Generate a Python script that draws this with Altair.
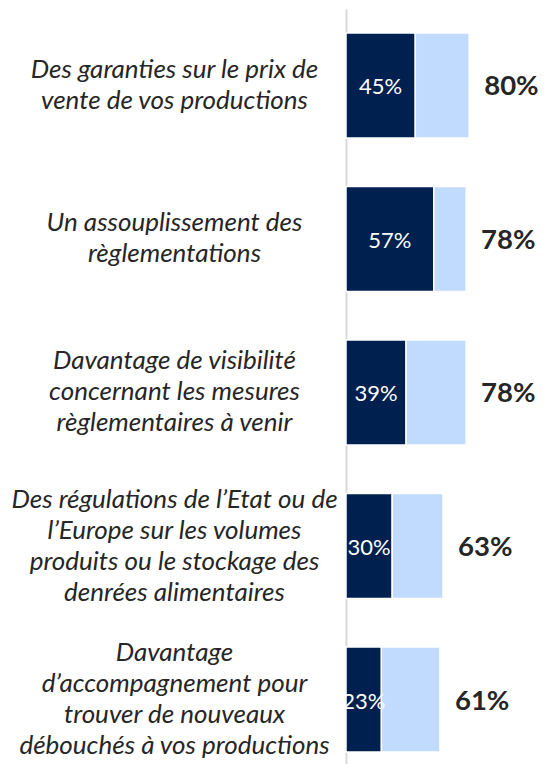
import altair as alt
import pandas as pd

categories = [
    "Des garanties sur le prix de|vente de vos productions",
    "Un assouplissement des|règlementations",
    "Davantage de visibilité|concernant les mesures|règlementaires à venir",
    "Des régulations de l’Etat ou de|l’Europe sur les volumes|produits ou le stockage des|denrées alimentaires",
    "Davantage|d’accompagnement pour|trouver de nouveaux|débouchés à vos productions",
]
part_values = [45, 57, 39, 30, 23]
total_values = [80, 78, 78, 63, 61]

DARK = "#002150"
LIGHT = "#c0dbfd"
LINE_H = 31

rows = []
for c, p, t in zip(categories, part_values, total_values):
    rows.append({"cat": c, "seg": "part", "value": p, "ord": 0})
    rows.append({"cat": c, "seg": "rest", "value": t - p, "ord": 1})
df = pd.DataFrame(rows)
lab = pd.DataFrame({"cat": categories, "part": part_values, "total": total_values})

y = alt.Y(
    "cat:N",
    sort=categories,
    title=None,
    scale=alt.Scale(paddingInner=0.316, paddingOuter=0.117, align=0.667),
    axis=alt.Axis(
        labelExpr="split(datum.label, '|')",
        labelAlign="center",
        labelBaseline="middle",
        labelOffset={"expr": f"-(length(split(datum.label, '|')) - 1) * {LINE_H / 2}"},
        labelPadding=172,
        ticks=False,
        domainColor="#d9d9d9",
        domainWidth=2,
        labelFont="Lato",
        labelFontStyle="italic",
        labelFontSize=26,
        labelColor="#262626",
        labelLineHeight=LINE_H,
        labelLimit=500,
        grid=False,
    ),
)

xscale = alt.Scale(domain=[0, 100])

bars = alt.Chart(df).mark_bar(stroke="white", strokeWidth=1.5).encode(
    x=alt.X("value:Q", stack="zero", scale=xscale, axis=None),
    y=y,
    color=alt.Color("seg:N", scale=alt.Scale(domain=["part", "rest"], range=[DARK, LIGHT]), legend=None),
    order=alt.Order("ord:Q"),
)

inner = alt.Chart(lab).transform_calculate(
    mid="datum.part / 2", lbl="datum.part + '%'"
).mark_text(color="white", font="Lato", fontSize=22, dy=2).encode(
    x=alt.X("mid:Q", scale=xscale, axis=None),
    y=y,
    text="lbl:N",
)

totals = alt.Chart(lab).transform_calculate(
    lbl="datum.total + '%'"
).mark_text(align="left", dx=15, dy=2, color="#262626", font="Lato", fontWeight="bold", fontSize=27.5).encode(
    x=alt.X("total:Q", scale=xscale, axis=None),
    y=y,
    text="lbl:N",
)

chart = alt.layer(bars, inner, totals).properties(
    width=154,
    height=755,
    autosize=alt.AutoSizeParams(type="none"),
    padding={"left": 338, "top": 1, "right": 40, "bottom": 0},
).configure_view(stroke=None)

chart.save("out.html", embed_options={"renderer": "svg", "actions": False})
